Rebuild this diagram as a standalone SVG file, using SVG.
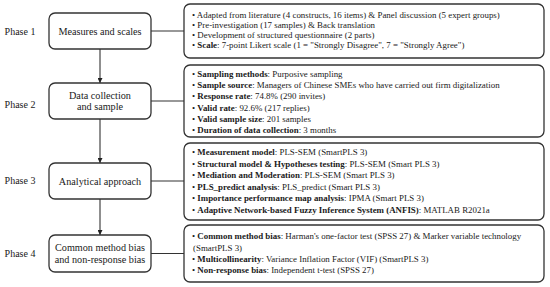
<svg xmlns="http://www.w3.org/2000/svg" width="550" height="287" viewBox="0 0 550 287">
<defs>
<style>
text{font-family:"Liberation Serif","Times New Roman",serif;fill:#1a1a1a}
.ph{font-size:10px;text-anchor:middle}
.lb{font-size:10.2px;text-anchor:middle}
.rt{font-size:8.9px}
.b{font-weight:bold}
.box{fill:#fff;stroke:#333;stroke-width:1.3}
.con{stroke:#333;stroke-width:1.1;fill:none}
</style>
<marker id="ah" viewBox="0 0 10 10" refX="10" refY="5" markerWidth="5" markerHeight="5" orient="auto" markerUnits="userSpaceOnUse">
<path d="M0,0 L10,5 L0,10 z" fill="#222"/>
</marker>
</defs>
<rect width="550" height="287" fill="#fff"/>

<g id="phase-labels">
<text class="ph" x="20" y="35">Phase 1</text>
<text class="ph" x="20" y="108">Phase 2</text>
<text class="ph" x="20" y="184">Phase 3</text>
<text class="ph" x="20" y="257">Phase 4</text>
</g>

<g id="connectors">
<line class="con" x1="100" y1="49" x2="100" y2="83" marker-end="url(#ah)"/>
<line class="con" x1="100" y1="119" x2="100" y2="163" marker-end="url(#ah)"/>
<line class="con" x1="100" y1="199" x2="100" y2="235" marker-end="url(#ah)"/>
<line class="con" x1="151" y1="31" x2="184" y2="31"/>
<line class="con" x1="151" y1="101" x2="184" y2="101"/>
<line class="con" x1="151" y1="181" x2="184" y2="181"/>
<line class="con" x1="151" y1="253.5" x2="184" y2="253.5"/>
</g>

<g id="phase1-box">
<rect class="box" x="49" y="13" width="102" height="36" rx="6"/>
<text class="lb" x="100" y="34.5">Measures and scales</text>
</g>
<g id="phase2-box">
<rect class="box" x="49" y="83" width="102" height="36" rx="6"/>
<text class="lb" x="100" y="98.5">Data collection</text>
<text class="lb" x="100" y="110">and sample</text>
</g>
<g id="phase3-box">
<rect class="box" x="49" y="163" width="102" height="36" rx="6"/>
<text class="lb" x="100" y="184.5">Analytical approach</text>
</g>
<g id="phase4-box">
<rect class="box" x="49" y="235" width="102" height="37" rx="6"/>
<text class="lb" x="100" y="251">Common method bias</text>
<text class="lb" x="100" y="262.5">and non-response bias</text>
</g>

<g id="phase1-details">
<rect class="box" x="184" y="4" width="360" height="54" rx="6"/>
<text class="rt" x="192" y="18">• Adapted from literature (4 constructs, 16 items) &amp; Panel discussion (5 expert groups)</text>
<text class="rt" x="192" y="28">• Pre-investigation (17 samples) &amp; Back translation</text>
<text class="rt" x="192" y="37.7">• Development of structured questionnaire (2 parts)</text>
<text class="rt" x="192" y="47.5">• <tspan class="b">Scale</tspan>: 7-point Likert scale (1 = "Strongly Disagree", 7 = "Strongly Agree")</text>
</g>

<g id="phase2-details">
<rect class="box" x="184" y="65" width="360" height="72" rx="6"/>
<text class="rt" x="192" y="77">• <tspan class="b">Sampling methods</tspan>: Purposive sampling</text>
<text class="rt" x="192" y="88.2">• <tspan class="b">Sample source</tspan>: Managers of Chinese SMEs who have carried out firm digitalization</text>
<text class="rt" x="192" y="99.4">• <tspan class="b">Response rate</tspan>: 74.8% (290 invites)</text>
<text class="rt" x="192" y="110.6">• <tspan class="b">Valid rate</tspan>: 92.6% (217 replies)</text>
<text class="rt" x="192" y="121.8">• <tspan class="b">Valid sample size</tspan>: 201 samples</text>
<text class="rt" x="192" y="133">• <tspan class="b">Duration of data collection</tspan>: 3 months</text>
</g>

<g id="phase3-details">
<rect class="box" x="184" y="143" width="360" height="77" rx="6"/>
<text class="rt" x="192" y="155">• <tspan class="b">Measurement model</tspan>: PLS-SEM (SmartPLS 3)</text>
<text class="rt" x="192" y="166.5">• <tspan class="b">Structural model &amp; Hypotheses testing</tspan>: PLS-SEM (Smart PLS 3)</text>
<text class="rt" x="192" y="178">• <tspan class="b">Mediation and Moderation</tspan>: PLS-SEM (Smart PLS 3)</text>
<text class="rt" x="192" y="189.5">• <tspan class="b">PLS_predict analysis</tspan>: PLS_predict (Smart PLS 3)</text>
<text class="rt" x="192" y="201">• <tspan class="b">Importance performance map analysis</tspan>: IPMA (Smart PLS 3)</text>
<text class="rt" x="192" y="212.5">• <tspan class="b">Adaptive Network-based Fuzzy Inference System (ANFIS)</tspan>: MATLAB R2021a</text>
</g>

<g id="phase4-details">
<rect class="box" x="184" y="225" width="360" height="57" rx="6"/>
<text class="rt" x="192" y="239">• <tspan class="b">Common method bias</tspan>: Harman's one-factor test (SPSS 27) &amp; Marker variable technology</text>
<text class="rt" x="193" y="250.5">(SmartPLS 3)</text>
<text class="rt" x="192" y="262">• <tspan class="b">Multicollinearity</tspan>: Variance Inflation Factor (VIF) (SmartPLS 3)</text>
<text class="rt" x="192" y="273">• <tspan class="b">Non-response bias</tspan>: Independent t-test (SPSS 27)</text>
</g>
</svg>
